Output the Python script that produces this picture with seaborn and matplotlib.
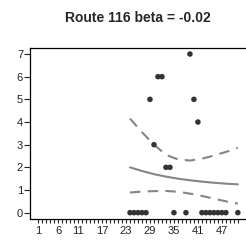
import numpy as np
import pandas as pd
import matplotlib
matplotlib.use("Agg")
import matplotlib.pyplot as plt
import seaborn as sns

# observed counts
obs_x = [24, 25, 26, 27, 28, 29, 30, 31, 32, 33, 34, 35, 38, 39, 40, 41,
         42, 43, 44, 45, 46, 47, 48, 51]
obs_y = [0, 0, 0, 0, 0, 5, 3, 6, 6, 2, 2, 0, 0, 7, 5, 4,
         0, 0, 0, 0, 0, 0, 0, 0]

# fitted trend and bounds
fit_x = [24, 27, 30, 33, 36, 39, 42, 45, 48, 51]
fit_y = [2.00, 1.84, 1.70, 1.59, 1.50, 1.43, 1.37, 1.32, 1.28, 1.25]
upper_y = [4.15, 3.55, 3.00, 2.55, 2.35, 2.30, 2.38, 2.52, 2.68, 2.86]
lower_y = [0.89, 0.93, 0.95, 0.96, 0.92, 0.84, 0.74, 0.62, 0.50, 0.40]

tick_pos = list(range(1, 52))
tick_labels = ["1", "6", "11", "17", "23", "29", "35", "41", "47"]

sns.set_style("ticks")
plt.rcParams["font.family"] = ["Liberation Sans", "DejaVu Sans"]

fig = plt.figure(figsize=(2.46, 2.42), dpi=100)
ax = fig.add_axes([0.122, 0.095, 0.878, 0.708])

df_obs = pd.DataFrame({"x": obs_x, "y": obs_y})
df_fit = pd.DataFrame({"x": fit_x, "fit": fit_y, "upper": upper_y, "lower": lower_y})

sns.lineplot(data=df_fit, x="x", y="fit", color="#858585", lw=1.5, ax=ax)
sns.lineplot(data=df_fit, x="x", y="upper", color="#858585", lw=1.5,
             linestyle=(0, (5, 3.5)), ax=ax)
sns.lineplot(data=df_fit, x="x", y="lower", color="#858585", lw=1.5,
             linestyle=(0, (5, 3.5)), ax=ax)
sns.scatterplot(data=df_obs, x="x", y="y", color="#333333", s=16,
                edgecolor="none", ax=ax, zorder=3)

ax.set_xlim(-1.04, 53.04)
ax.set_ylim(-0.28, 7.28)
ax.set_xticks(tick_pos)
lbls = [str(t) if str(t) in tick_labels else "" for t in tick_pos]
ax.set_xticklabels(lbls)
ax.set_yticks(range(0, 8))
ax.tick_params(axis="x", length=3, width=0.8, pad=2, labelsize=8, colors="#222222")
ax.tick_params(axis="y", length=4, width=0.8, pad=1, labelsize=8, colors="#222222")
ax.set_xlabel("")
ax.set_ylabel("")
for s in ["left", "bottom", "top"]:
    ax.spines[s].set_linewidth(0.9)
    ax.spines[s].set_color("black")
ax.spines["right"].set_visible(False)

fig.text(0.56, 0.925, "Route 116 beta = -0.02", ha="center", va="center",
         fontsize=10, fontweight="bold")

fig.savefig("out.png", dpi=100)
